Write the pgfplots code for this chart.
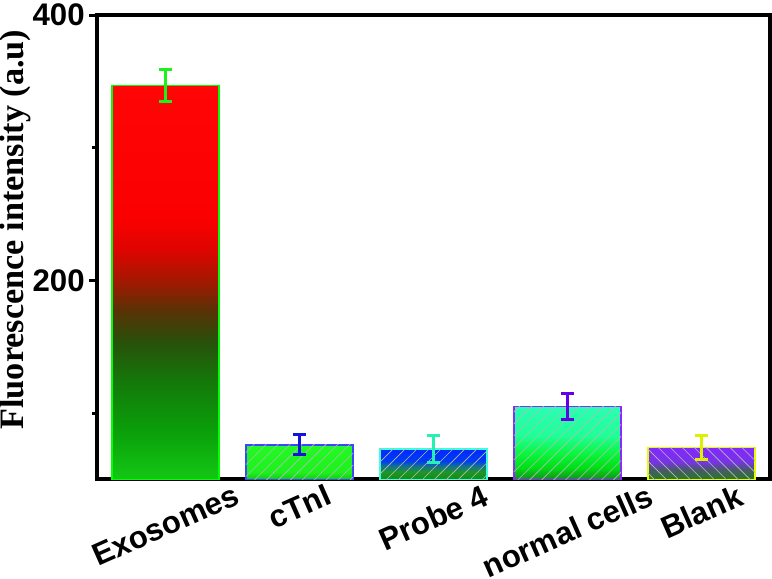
\documentclass[border=0pt]{standalone}
\usepackage{pgfplots}
\pgfplotsset{compat=1.18}
\usetikzlibrary{patterns.meta}
\usepackage{fontspec}
\setmainfont{Liberation Sans}
\newfontfamily\serifbf{Liberation Serif}

% colours
\definecolor{eA}{RGB}{20,200,20}
\definecolor{eB}{RGB}{10,160,10}
\definecolor{eC}{RGB}{20,120,10}
\definecolor{eD}{RGB}{40,80,10}
\definecolor{eE}{RGB}{90,50,5}
\definecolor{eF}{RGB}{160,25,0}
\definecolor{eG}{RGB}{220,5,0}
\definecolor{eH}{RGB}{250,0,0}
\definecolor{eI}{RGB}{255,5,5}

\definecolor{cA}{RGB}{20,200,20}
\definecolor{cB}{RGB}{30,240,30}
\definecolor{cC}{RGB}{35,250,35}

\definecolor{pA}{RGB}{20,140,20}
\definecolor{pB}{RGB}{30,150,40}
\definecolor{pC}{RGB}{20,110,150}
\definecolor{pD}{RGB}{0,60,240}
\definecolor{pE}{RGB}{0,40,255}

\definecolor{nA}{RGB}{20,140,30}
\definecolor{nB}{RGB}{0,220,20}
\definecolor{nC}{RGB}{10,245,60}
\definecolor{nD}{RGB}{30,255,150}
\definecolor{nE}{RGB}{40,255,180}

\definecolor{bA}{RGB}{40,120,40}
\definecolor{bB}{RGB}{70,90,100}
\definecolor{bC}{RGB}{120,50,230}
\definecolor{bD}{RGB}{130,40,255}

\definecolor{edgeE}{RGB}{0,255,0}
\definecolor{edgeC}{RGB}{60,70,255}
\definecolor{edgeP}{RGB}{60,255,220}
\definecolor{edgeN}{RGB}{140,40,255}
\definecolor{edgeB}{RGB}{230,255,0}

\definecolor{errE}{RGB}{30,240,30}
\definecolor{errC}{RGB}{20,20,220}
\definecolor{errP}{RGB}{40,240,180}
\definecolor{errN}{RGB}{100,0,230}
\definecolor{errB}{RGB}{220,240,0}
\definecolor{hatchc}{RGB}{175,190,180}

% shadings: path bbox maps to 25bp..75bp
\pgfdeclareverticalshading{exo}{100bp}{color(0bp)=(eA); color(25bp)=(eA); color(31bp)=(eB); color(37.5bp)=(eC); color(42.5bp)=(eD); color(46.5bp)=(eE); color(50bp)=(eF); color(54bp)=(eG); color(58bp)=(eH); color(75bp)=(eI); color(100bp)=(eI)}
\pgfdeclareverticalshading{ctn}{100bp}{color(0bp)=(cA); color(25bp)=(cA); color(35bp)=(cB); color(75bp)=(cC); color(100bp)=(cC)}
\pgfdeclareverticalshading{prb}{100bp}{color(0bp)=(pA); color(25bp)=(pA); color(37.5bp)=(pB); color(47.5bp)=(pC); color(55bp)=(pD); color(75bp)=(pE); color(100bp)=(pE)}
\pgfdeclareverticalshading{nrm}{100bp}{color(0bp)=(nA); color(25bp)=(nA); color(32.5bp)=(nB); color(42.5bp)=(nC); color(55bp)=(nD); color(75bp)=(nE); color(100bp)=(nE)}
\pgfdeclareverticalshading{blk}{100bp}{color(0bp)=(bA); color(25bp)=(bA); color(40bp)=(bB); color(52.5bp)=(bC); color(75bp)=(bD); color(100bp)=(bD)}

\pgfplotsset{
  mybar/.style={ybar, bar width=0.8, bar shift=0pt, line width=0.75pt, shade, shading=#1},
  hatchbar/.style={ybar, bar width=0.8, bar shift=0pt, draw=none, forget plot,
     pattern color=hatchc, pattern={Lines[angle=#1,distance=4.2pt,line width=0.3pt]}},
  myerr/.style={draw=none, mark=none, forget plot,
    error bars/.cd, y dir=both, y explicit,
    error bar style={line width=1.5pt, draw=#1, solid},
    error mark options={rotate=90, mark size=3.3pt, line width=1.5pt, draw=#1}},
}

\begin{document}
\begin{tikzpicture}
\begin{axis}[
  scale only axis, width=334pt, height=230.5pt,
  xmin=-0.51, xmax=4.51, ymin=50, ymax=400,
  y coord trafo/.code={\pgfmathparse{#1-50}},
  y coord inv trafo/.code={\pgfmathparse{#1+50}},
  ytick={200,400}, minor ytick={100,300},
  xtick={0,1,2,3,4},
  xticklabels={\rotatebox{24}{Exosomes},\rotatebox{24}{cTnI},\rotatebox{24}{Probe 4},\rotatebox{24}{normal cells},\rotatebox{24}{Blank}},
  tick pos=left, tick align=outside,
  major tick length=4pt, minor tick length=2.5pt,
  axis line style={line width=2pt},
  ytick style={line width=1.5pt, black},
  xtick style={draw=none},
  /pgf/number format/assume math mode=true,
  yticklabel style={font=\fontsize{15.5}{16}\selectfont\bfseries, inner sep=2pt},
  xticklabel style={font=\fontsize{15.5}{16}\selectfont\bfseries, anchor=north, inner sep=0pt, yshift=2pt},
  ylabel={Fluorescence intensity (a.u)},
  ylabel style={font=\serifbf\fontsize{17}{18}\selectfont\bfseries, inner sep=0pt},
  every axis y label/.append style={at={(ticklabel cs:0.538,-1.5pt)}},
  clip=true,
]
\addplot[mybar=exo, draw=edgeE] coordinates {(0,347)};
\addplot[mybar=ctn, draw=edgeC] coordinates {(1,76)};
\addplot[mybar=prb, draw=edgeP] coordinates {(2,73)};
\addplot[mybar=nrm, draw=edgeN] coordinates {(3,105)};
\addplot[mybar=blk, draw=edgeB] coordinates {(4,74)};

\addplot[hatchbar=45] coordinates {(1,76)};
\addplot[hatchbar=45] coordinates {(2,73)};
\addplot[hatchbar=45] coordinates {(3,105)};
\addplot[hatchbar=-45] coordinates {(4,74)};

\addplot[myerr=errE] coordinates {(0,347) +- (0,12)};
\addplot[myerr=errC] coordinates {(1,76) +- (0,7.5)};
\addplot[myerr=errP] coordinates {(2,73) +- (0,10)};
\addplot[myerr=errN] coordinates {(3,105) +- (0,10)};
\addplot[myerr=errB] coordinates {(4,74) +- (0,9)};
\end{axis}
\end{tikzpicture}
\end{document}
